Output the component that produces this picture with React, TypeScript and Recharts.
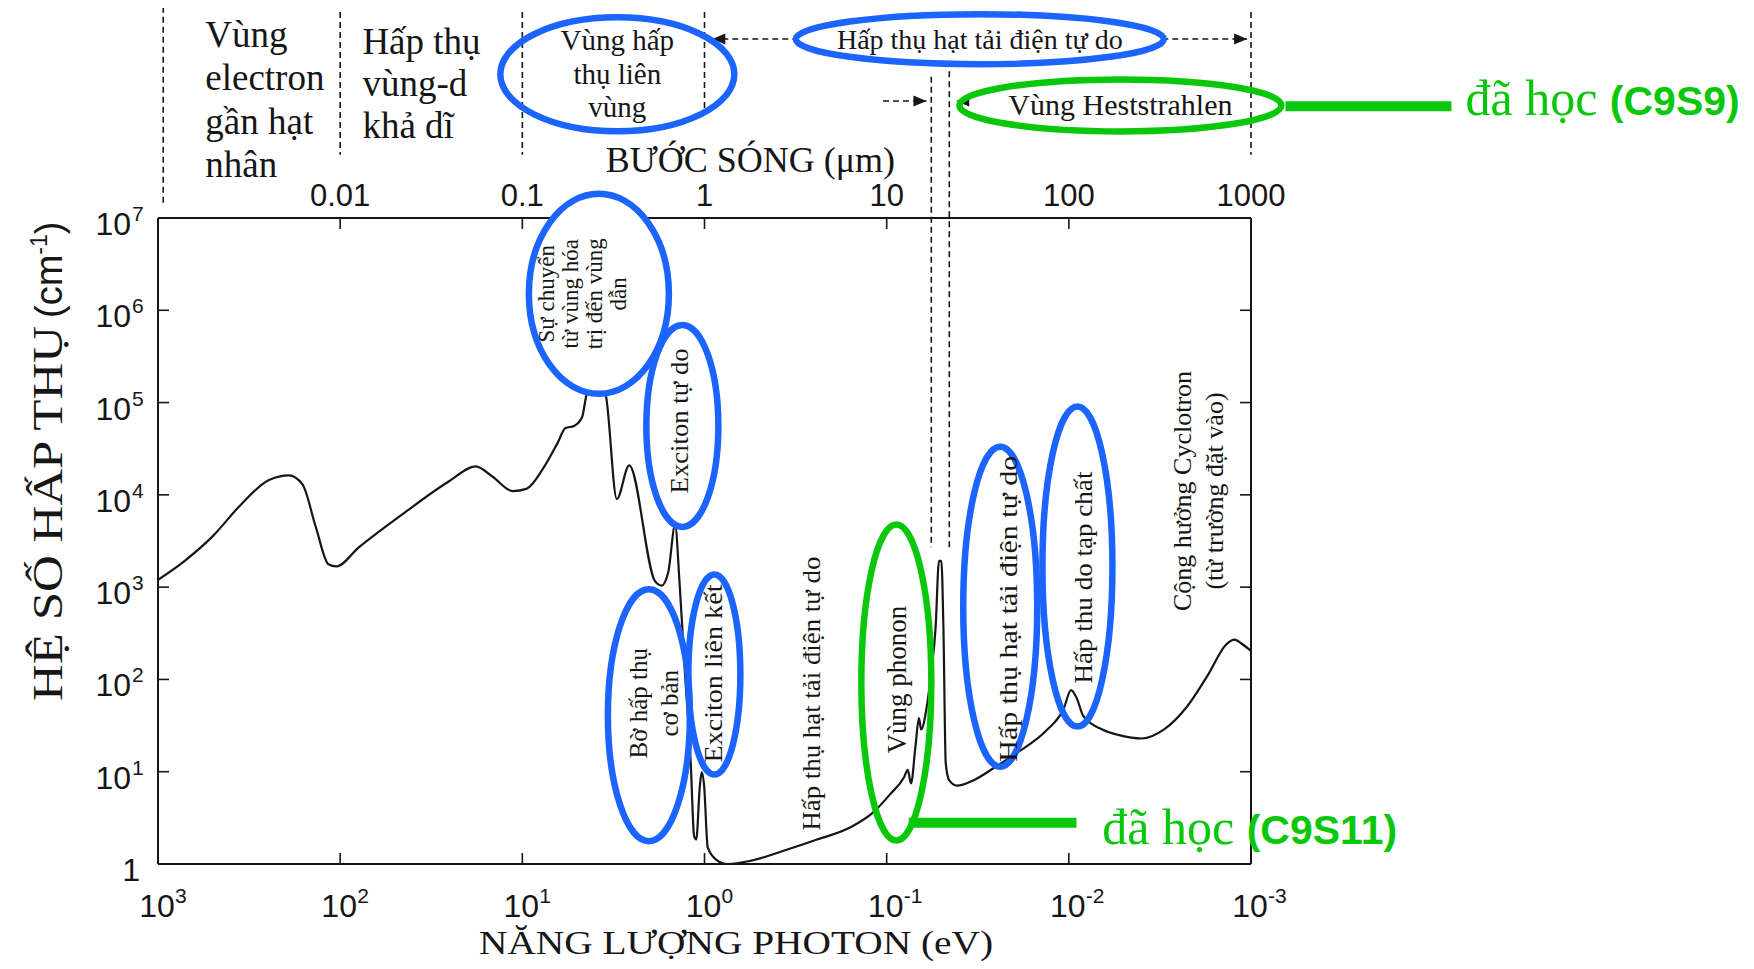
import React from 'react';
import { LineChart, Line, XAxis, YAxis, ReferenceDot, ReferenceLine } from 'recharts';

// photon energy (eV) and absorption coefficient (cm^-1)
const photonEnergy = [
  1000, 713, 500, 351, 246, 191, 161, 136, 116, 105, 79, 45, 25.6, 18, 14.6, 11.3, 9.5,
  7.7, 6.4, 5.8, 5.2, 4.7, 4.44, 3.96, 3.49, 3.03, 2.59, 1.87, 1.72, 1.58, 1.45, 1.37,
  1.28, 1.19, 1.14, 1.11, 1.06, 1.035, 1.005, 0.96, 0.861, 0.747, 0.562, 0.368, 0.241,
  0.158, 0.119, 0.0961, 0.08, 0.0767, 0.0735, 0.0695, 0.0665, 0.0647, 0.0603, 0.057,
  0.0539, 0.0516, 0.0501, 0.0488, 0.0474, 0.0454, 0.0411, 0.0333, 0.0251, 0.0189,
  0.0133, 0.0107, 0.00972, 0.00906, 0.00832, 0.00655, 0.00529, 0.00398, 0.003, 0.00226,
  0.0017, 0.00138, 0.00123, 0.00112, 0.001,
];
const absorption = [
  1200, 1930, 3570, 7830, 14500, 16300, 13000, 4470, 1770, 1680, 2700, 6270, 13800, 20400, 15800, 11000, 11600,
  19200, 36600, 52900, 55800, 69400, 122000, 180000, 122000, 9020, 20900, 1160, 1040, 1460, 4730, 1100,
  117, 12.4, 2.0, 1.84, 7.06, 9.9, 7.06, 1.51, 1.11, 1.0, 1.08, 1.39, 1.84,
  2.5, 3.6, 5.65, 8.84, 10.5, 7.46, 18.8, 38, 28.7, 50, 117,
  358, 1930, 1930, 358, 12.4, 8.1, 7.06, 8.1, 11.4, 16.4,
  27.9, 47.5, 76.6, 63, 40, 28.7, 24.9, 22.9, 28.7, 50,
  117, 235, 270, 242, 204,
];

const energyTicks = [1000, 100, 10, 1, 0.1, 0.01, 0.001];
const energyTickLabels = ['3', '2', '1', '0', '-1', '-2', '-3'];
const absorptionTicks = [1, 10, 100, 1000, 1e4, 1e5, 1e6, 1e7];
const absorptionTickLabels = ['', '1', '2', '3', '4', '5', '6', '7'];
const wavelengthTicks = [100, 10, 1, 0.1, 0.01, 0.001];
const wavelengthTickLabels = ['0.01', '0.1', '1', '10', '100', '1000'];

const data = photonEnergy.map((e, i) => ({ e, a: absorption[i] }));

const W = 1738;
const H = 961;
const BLUE = '#1b64ff';
const GREEN = '#0bc70b';
const INK = '#161616';
const SANS = '"Liberation Sans", Arial, Helvetica, sans-serif';
const SERIF = '"Liberation Serif", "Times New Roman", Times, serif';

// labels inside the plot (rotated text, optional ring)
const plotNotes = [
  { e: 3.8, a: 1.51e6, rx: 70, ry: 100, ring: BLUE, fill: '#fff', lines: ['Sự chuyển', 'từ vùng hóa', 'trị đến vùng', 'dẫn'], size: 23, gap: 24, dx: -16, dy: 0, len: 0 },
  { e: 1.323, a: 5.59e4, rx: 36, ry: 101, ring: BLUE, fill: 'none', lines: ['Exciton tự do'], size: 26, gap: 0, dx: -3, dy: -5, len: 145 },
  { e: 2.02, a: 40.9, rx: 41, ry: 126, ring: BLUE, fill: 'none', lines: ['Bờ hấp thụ', 'cơ bản'], size: 25, gap: 31, dx: 5, dy: -12, len: 0 },
  { e: 0.883, a: 113, rx: 26, ry: 100, ring: BLUE, fill: 'none', lines: ['Exciton liên kết'], size: 26, gap: 0, dx: -1, dy: -1, len: 178 },
  { e: 0.257, a: 70.2, rx: 0, ry: 0, ring: 'none', fill: 'none', lines: ['Hấp thụ hạt tải  điện tự do'], size: 25, gap: 0, dx: 0, dy: 0, len: 274 },
  { e: 0.0885, a: 92.5, rx: 35, ry: 158, ring: GREEN, fill: 'none', lines: ['Vùng phonon'], size: 27, gap: 0, dx: 1, dy: -3, len: 0 },
  { e: 0.0238, a: 614, rx: 37, ry: 160, ring: BLUE, fill: 'none', lines: ['Hấp thụ hạt tải  điện tự do'], size: 25, gap: 0, dx: 8, dy: 2, len: 306 },
  { e: 0.00897, a: 1670, rx: 35, ry: 160, ring: BLUE, fill: 'none', lines: ['Hấp thu do tạp chất'], size: 26, gap: 0, dx: 6, dy: 11, len: 212 },
  { e: 0.001945, a: 11000, rx: 0, ry: 0, ring: 'none', fill: 'none', lines: ['Cộng hưởng Cyclotron', '(từ trường đặt vào)'], size: 26, gap: 32, dx: 0, dy: 0, len: 0 },
];

// labels above the plot (horizontal text)
const headNotes = [
  { e: 550, a: 7.13e8, lines: ['Vùng', 'electron', 'gần hạt', 'nhân'], size: 37, gap: 43.5, dy: 0, anchor: 'start', rx: 0, ry: 0, ring: 'none', fill: 'none' },
  { e: 75.5, a: 5.98e8, lines: ['Hấp thụ', 'vùng-d', 'khả dĩ'], size: 37, gap: 42, dy: 0, anchor: 'start', rx: 0, ry: 0, ring: 'none', fill: 'none' },
  { e: 3.01, a: 3.61e8, lines: ['Vùng hấp', 'thụ liên', 'vùng'], size: 29, gap: 33.5, dy: -24, anchor: 'middle', rx: 117, ry: 57, ring: BLUE, fill: 'none' },
  { e: 0.0308, a: 8.67e8, lines: ['Hấp thụ hạt tải điện tự do'], size: 28, gap: 0, dy: 10, anchor: 'middle', rx: 184, ry: 25, ring: BLUE, fill: '#fff' },
  { e: 0.00521, a: 1.66e8, lines: ['Vùng Heststrahlen'], size: 30, gap: 0, dy: 10, anchor: 'middle', rx: 161, ry: 26, ring: GREEN, fill: 'none' },
  { e: 0.56, a: 3.15e7, lines: ['BƯỚC SÓNG (μm)'], size: 36, gap: 0, dy: 0, anchor: 'middle', rx: 0, ry: 0, ring: 'none', fill: 'none' },
];

const guides = [
  { e: 936, top: 1.94e9, bottom: 1.46e7 },
  { e: 100, top: 1.71e9, bottom: 4.85e7 },
  { e: 10, top: 1.71e9, bottom: 4.85e7 },
  { e: 1, top: 1.71e9, bottom: 1.32e8 },
  { e: 0.0569, top: 3.4e8, bottom: 2700 },
  { e: 0.0453, top: 3.9e8, bottom: 2600 },
  { e: 0.001, top: 1.71e9, bottom: 4.85e7 },
];

const arrows = [
  { from: 0.906, to: 0.00105, a: 8.7e8 },
  { from: 0.1047, to: 0.0605, a: 1.85e8 },
];
const arrowTips = [
  { e: 0.906, a: 8.7e8, dir: -1 },
  { e: 0.00105, a: 8.7e8, dir: 1 },
  { e: 0.0605, a: 1.85e8, dir: 1 },
  { e: 0.0415, a: 1.85e8, dir: -1 },
];

const greenBars = [
  { from: 6.47e-4, to: 7.94e-5, a: 1.63e8 },
  { from: 0.0757, to: 0.00908, a: 2.8 },
];
const greenNotes = [
  { e: 6.65e-5, a: 1.32e8, tag: '(C9S9)' },
  { e: 0.00655, a: 1.65, tag: '(C9S11)' },
];

const EnergyTick = (p: any) => {
  const i = energyTicks.indexOf(p.payload.value);
  const y0 = p.y - 10;
  return (
    <g>
      <line x1={p.x} x2={p.x} y1={y0} y2={y0 - 11} stroke={INK} strokeWidth={1.6} />
      <text x={p.x - 1} y={y0 + 53} textAnchor="middle" fontFamily={SANS} fontSize={32} fill={INK}>10</text>
      <text x={p.x + 17} y={y0 + 39} fontFamily={SANS} fontSize={21} fill={INK}>{energyTickLabels[i]}</text>
    </g>
  );
};

const AlphaTick = (p: any) => {
  const i = absorptionTicks.indexOf(p.payload.value);
  const x0 = p.x + 10;
  const exp = absorptionTickLabels[i];
  return (
    <g>
      <line x1={x0} x2={x0 + 11} y1={p.y} y2={p.y} stroke={INK} strokeWidth={1.6} />
      {exp ? (
        <text x={x0 - 27} y={p.y + 17} textAnchor="end" fontFamily={SANS} fontSize={32} fill={INK}>10</text>
      ) : (
        <text x={x0 - 18} y={p.y + 17} textAnchor="end" fontFamily={SANS} fontSize={32} fill={INK}>1</text>
      )}
      {exp && <text x={x0 - 26} y={p.y + 3} fontFamily={SANS} fontSize={21} fill={INK}>{exp}</text>}
    </g>
  );
};

const WaveTick = (p: any) => {
  const i = wavelengthTicks.indexOf(p.payload.value);
  const y0 = p.y + 10;
  return (
    <g>
      <line x1={p.x} x2={p.x} y1={y0} y2={y0 + 11} stroke={INK} strokeWidth={1.6} />
      <text x={p.x} y={y0 - 12} textAnchor="middle" fontFamily={SANS} fontSize={31} fill={INK}>{wavelengthTickLabels[i]}</text>
    </g>
  );
};

const RightTick = (p: any) => (
  <line x1={p.x - 10} x2={p.x - 21} y1={p.y} y2={p.y} stroke={INK} strokeWidth={1.6} />
);

const YTitle = (p: any) => {
  const vb = p.viewBox;
  const x = vb.x + 54;
  const y = vb.y + vb.height / 2 + 160;
  return (
    <g transform={`rotate(-90 ${x} ${y})`}>
      <text x={x} y={y} fontFamily={SERIF} fontSize={42} fill={INK} textLength={375} lengthAdjust="spacingAndGlyphs">HỆ SỐ HẤP THỤ</text>
      <text x={x + 383} y={y} fontFamily={SANS} fontSize={38} fill={INK}>
        (cm<tspan dy={-15} fontSize={23}>-1</tspan><tspan dy={15}>)</tspan>
      </text>
    </g>
  );
};

const XTitle = (p: any) => {
  const vb = p.viewBox;
  return (
    <text x={vb.x + 321} y={vb.y + 90} fontFamily={SERIF} fontSize={34} fill={INK} textLength={514} lengthAdjust="spacingAndGlyphs">
      NĂNG LƯỢNG PHOTON (eV)
    </text>
  );
};

const ringShape = (n: any) => (p: any) => {
  const tx = p.cx + n.dx;
  const ty = p.cy + n.dy;
  return (
    <g>
      {n.rx > 0 && <ellipse cx={p.cx} cy={p.cy} rx={n.rx} ry={n.ry} fill={n.fill} stroke={n.ring} strokeWidth={6.5} />}
      <g transform={`rotate(-90 ${tx} ${ty})`}>
        {n.lines.map((s: string, i: number) => (
          <text key={i} x={tx} y={ty + (i - (n.lines.length - 1) / 2) * n.gap} textAnchor="middle"
            dominantBaseline="central" fontFamily={SERIF} fontSize={n.size} fill={INK}
            {...(n.len ? { textLength: n.len, lengthAdjust: 'spacingAndGlyphs' } : {})}>{s}</text>
        ))}
      </g>
    </g>
  );
};

const headShape = (n: any) => (p: any) => (
  <g>
    {n.rx > 0 && <ellipse cx={p.cx} cy={p.cy} rx={n.rx} ry={n.ry} fill={n.fill} stroke={n.ring} strokeWidth={6.5} />}
    {n.lines.map((s: string, i: number) => (
      <text key={i} x={p.cx} y={p.cy + n.dy + i * n.gap} textAnchor={n.anchor}
        fontFamily={SERIF} fontSize={n.size} fill={INK}>{s}</text>
    ))}
  </g>
);

const tipShape = (dir: number) => (p: any) => (
  <polygon points={`${p.cx},${p.cy} ${p.cx - dir * 13},${p.cy - 5.5} ${p.cx - dir * 13},${p.cy + 5.5}`} fill={INK} />
);

const greenShape = (tag: string) => (p: any) => (
  <text x={p.cx} y={p.cy} fontFamily={SERIF} fontSize={50} fill={GREEN}>
    đã học <tspan fontFamily={SANS} fontWeight="bold" fontSize={41}>{tag}</tspan>
  </text>
);

export default function App() {
  const ax = { xAxisId: 'e', yAxisId: 'l' };
  return (
    <div style={{ marginTop: -8 }}>
      <LineChart width={W} height={H} data={data} margin={{ top: 188, right: 485, bottom: 37, left: 0 }}>
        <XAxis xAxisId="e" dataKey="e" type="number" scale="log" domain={[0.001, 1000]} reversed allowDataOverflow
          ticks={energyTicks} interval={0} tick={EnergyTick} tickLine={false} tickSize={0} tickMargin={10} height={60}
          axisLine={{ stroke: INK, strokeWidth: 2 }} label={{ content: XTitle }} />
        <XAxis xAxisId="w" dataKey="e" orientation="top" type="number" scale="log" domain={[0.001, 1000]} reversed allowDataOverflow
          ticks={wavelengthTicks} interval={0} tick={WaveTick} tickLine={false} tickSize={0} tickMargin={10} height={30}
          axisLine={{ stroke: INK, strokeWidth: 2 }} />
        <YAxis yAxisId="l" type="number" scale="log" domain={[1, 1e7]} allowDataOverflow
          ticks={absorptionTicks} interval={0} tick={AlphaTick} tickLine={false} tickSize={0} tickMargin={10} width={150}
          axisLine={{ stroke: INK, strokeWidth: 2 }} label={{ content: YTitle }} />
        <YAxis yAxisId="r" orientation="right" type="number" scale="log" domain={[1, 1e7]} allowDataOverflow
          ticks={absorptionTicks} interval={0} tick={RightTick} tickLine={false} tickSize={0} tickMargin={10} width={10}
          axisLine={{ stroke: INK, strokeWidth: 2 }} />

        {guides.map((g, i) => (
          <ReferenceLine key={'g' + i} {...ax} ifOverflow="visible" stroke={INK} strokeWidth={1.6} strokeDasharray="6 4"
            segment={[{ x: g.e, y: g.top }, { x: g.e, y: g.bottom }]} />
        ))}
        {arrows.map((r, i) => (
          <ReferenceLine key={'r' + i} {...ax} ifOverflow="visible" stroke={INK} strokeWidth={1.6} strokeDasharray="6 4"
            segment={[{ x: r.from, y: r.a }, { x: r.to, y: r.a }]} />
        ))}
        {greenBars.map((b, i) => (
          <ReferenceLine key={'gb' + i} {...ax} ifOverflow="visible" stroke={GREEN} strokeWidth={10}
            segment={[{ x: b.from, y: b.a }, { x: b.to, y: b.a }]} />
        ))}

        <Line {...ax} dataKey="a" type="monotone" stroke={INK} strokeWidth={2.2} dot={false} activeDot={false} isAnimationActive={false} />

        {arrowTips.map((t, i) => (
          <ReferenceDot key={'t' + i} {...ax} x={t.e} y={t.a} r={1} ifOverflow="visible" shape={tipShape(t.dir)} />
        ))}
        {plotNotes.map((n, i) => (
          <ReferenceDot key={'p' + i} {...ax} x={n.e} y={n.a} r={1} ifOverflow="visible" shape={ringShape(n)} />
        ))}
        {headNotes.map((n, i) => (
          <ReferenceDot key={'h' + i} {...ax} x={n.e} y={n.a} r={1} ifOverflow="visible" shape={headShape(n)} />
        ))}
        {greenNotes.map((n, i) => (
          <ReferenceDot key={'n' + i} {...ax} x={n.e} y={n.a} r={1} ifOverflow="visible" shape={greenShape(n.tag)} />
        ))}
      </LineChart>
    </div>
  );
}
